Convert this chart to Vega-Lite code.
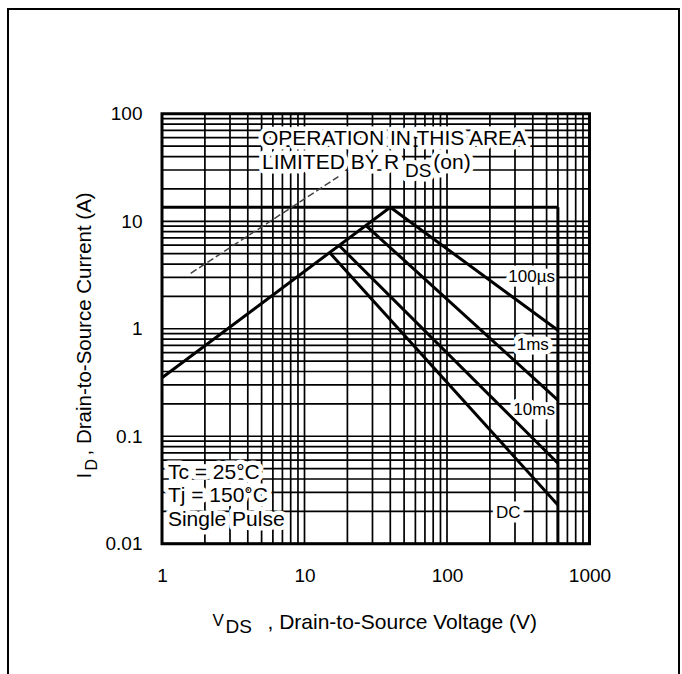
{
  "$schema": "https://vega.github.io/schema/vega-lite/v6.json",
  "width": 671,
  "height": 667,
  "padding": {"left": 8, "top": 9, "right": 3, "bottom": -2},
  "autosize": {"type": "none"},
  "background": "white",
  "config": {
    "view": {"stroke": "black", "strokeWidth": 2},
    "font": "Liberation Sans",
    "axis": {
      "grid": false, "ticks": false, "tickSize": 0, "domain": false,
      "labelPadding": 0, "labelColor": "black", "titleColor": "black",
      "labelFont": "Liberation Sans", "titleFont": "Liberation Sans",
      "labelFontWeight": "normal", "titleFontWeight": "normal",
      "labelOverlap": false, "labelFlush": false, "labelBound": false
    }
  },
  "resolve": {"axis": {"x": "independent", "y": "independent"}},
  "datasets": {
    "vgrid": [
      {"vds": 1}, {"vds": 2}, {"vds": 3}, {"vds": 4}, {"vds": 5}, {"vds": 6}, {"vds": 7}, {"vds": 8}, {"vds": 9},
      {"vds": 10}, {"vds": 20}, {"vds": 30}, {"vds": 40}, {"vds": 50}, {"vds": 60}, {"vds": 70}, {"vds": 80}, {"vds": 90},
      {"vds": 100}, {"vds": 200}, {"vds": 300}, {"vds": 400}, {"vds": 500}, {"vds": 600}, {"vds": 700}, {"vds": 800}, {"vds": 900},
      {"vds": 1000}
    ],
    "hgrid": [
      {"id": 0.01}, {"id": 0.02}, {"id": 0.03}, {"id": 0.04}, {"id": 0.05}, {"id": 0.06}, {"id": 0.07}, {"id": 0.08}, {"id": 0.09},
      {"id": 0.1}, {"id": 0.2}, {"id": 0.3}, {"id": 0.4}, {"id": 0.5}, {"id": 0.6}, {"id": 0.7}, {"id": 0.8}, {"id": 0.9},
      {"id": 1}, {"id": 2}, {"id": 3}, {"id": 4}, {"id": 5}, {"id": 6}, {"id": 7}, {"id": 8}, {"id": 9},
      {"id": 10}, {"id": 20}, {"id": 30}, {"id": 40}, {"id": 50}, {"id": 60}, {"id": 70}, {"id": 80}, {"id": 90},
      {"id": 100}
    ],
    "soa": [
      {"curve": "Id max", "vds": 1, "id": 13.5},
      {"curve": "Id max", "vds": 600, "id": 13.5},
      {"curve": "Vds max", "vds": 600, "id": 13.5},
      {"curve": "Vds max", "vds": 600, "id": 0.01},
      {"curve": "RDS(on)", "vds": 1, "id": 0.35},
      {"curve": "RDS(on)", "vds": 40, "id": 13.5},
      {"curve": "100us", "vds": 40, "id": 13.5},
      {"curve": "100us", "vds": 600, "id": 0.97},
      {"curve": "1ms", "vds": 27, "id": 9.13},
      {"curve": "1ms", "vds": 600, "id": 0.217},
      {"curve": "10ms", "vds": 17.5, "id": 5.95},
      {"curve": "10ms", "vds": 600, "id": 0.056},
      {"curve": "DC", "vds": 15, "id": 5.11},
      {"curve": "DC", "vds": 600, "id": 0.0229}
    ],
    "rdsGuide": [
      {"vds": 1.59, "id": 3.28},
      {"vds": 17.3, "id": 26}
    ],
    "labels": [
      {"label": "OPERATION IN THIS AREA", "kind": "main", "vds": 5.03, "id": 51.2},
      {"label": "LIMITED BY R", "kind": "main", "vds": 5.03, "id": 30.6},
      {"label": "DS", "kind": "sub", "vds": 50.7, "id": 25.8},
      {"label": "(on)", "kind": "main", "vds": 80.2, "id": 30.6},
      {"label": "100µs", "kind": "small", "vds": 269.3, "id": 2.74},
      {"label": "1ms", "kind": "small", "vds": 308.4, "id": 0.634},
      {"label": "10ms", "kind": "small", "vds": 292, "id": 0.1576},
      {"label": "DC", "kind": "small", "vds": 220.8, "id": 0.01723},
      {"label": "Tc = 25°C", "kind": "main", "vds": 1.1, "id": 0.0397},
      {"label": "Tj = 150°C", "kind": "main", "vds": 1.1, "id": 0.0246},
      {"label": "Single Pulse", "kind": "main", "vds": 1.1, "id": 0.0147}
    ]
  },
  "layer": [
    {
      "data": {"name": "vgrid"},
      "mark": {"type": "rule", "color": "black", "strokeWidth": 1.7},
      "encoding": {
        "x": {
          "field": "vds", "type": "quantitative",
          "scale": {"type": "log", "domain": [1, 1000], "range": [154, 581.5], "nice": false},
          "axis": {
            "orient": "bottom", "offset": -109.5, "values": [1, 10, 100, 1000], "format": "~g",
            "labelFontSize": 19, "labelBaseline": "top", "labelAlign": "center",
            "title": ", Drain-to-Source Voltage (V)", "titleFontSize": 21,
            "titleX": 259, "titleY": 61.8, "titleAlign": "left", "titleBaseline": "alphabetic", "titleAnchor": null
          }
        },
        "y": {"datum": 0.01, "axis": null},
        "y2": {"datum": 100}
      }
    },
    {
      "data": {"name": "hgrid"},
      "mark": {"type": "rule", "color": "black", "strokeWidth": 1.7},
      "encoding": {
        "y": {
          "field": "id", "type": "quantitative",
          "scale": {"type": "log", "domain": [0.01, 100], "range": [534.7, 104.8], "nice": false},
          "axis": {
            "orient": "left", "offset": -134, "values": [0.01, 0.1, 1, 10, 100], "format": "~g",
            "labelFontSize": 19, "labelAlign": "right", "labelBaseline": "middle",
            "title": ", Drain-to-Source Current (A)", "titleFontSize": 20.5, "titleAngle": 270,
            "titleX": -51.5, "titleY": 446, "titleAlign": "left", "titleBaseline": "alphabetic", "titleAnchor": null
          }
        },
        "x": {"datum": 1, "axis": null},
        "x2": {"datum": 1000}
      }
    },
    {
      "data": {"name": "labels"},
      "mark": {"type": "text", "align": "left", "baseline": "alphabetic", "fill": "white", "stroke": "white", "strokeWidth": 9, "strokeJoin": "round"},
      "encoding": {
        "x": {
          "field": "vds", "type": "quantitative",
          "axis": {
            "orient": "bottom", "offset": -109.5, "labels": false, "title": "V", "titleFontSize": 17,
            "titleX": 204, "titleY": 58.5, "titleAlign": "left", "titleBaseline": "alphabetic", "titleAnchor": null
          }
        },
        "y": {
          "field": "id", "type": "quantitative",
          "axis": {
            "orient": "left", "offset": -134, "labels": false, "title": "I", "titleFontSize": 20.5, "titleAngle": 270,
            "titleX": -51.5, "titleY": 469, "titleAlign": "left", "titleBaseline": "alphabetic", "titleAnchor": null
          }
        },
        "text": {"field": "label"},
        "size": {"field": "kind", "type": "nominal", "scale": {"domain": ["main", "sub", "small"], "range": [21, 17, 16]}, "legend": null}
      }
    },
    {
      "data": {"name": "soa"},
      "mark": {"type": "line", "color": "black", "strokeWidth": 3},
      "encoding": {
        "x": {
          "field": "vds", "type": "quantitative",
          "axis": {
            "orient": "bottom", "offset": -109.5, "labels": false, "title": "DS", "titleFontSize": 19,
            "titleX": 217, "titleY": 65.5, "titleAlign": "left", "titleBaseline": "alphabetic", "titleAnchor": null
          }
        },
        "y": {
          "field": "id", "type": "quantitative",
          "axis": {
            "orient": "left", "offset": -134, "labels": false, "title": "D", "titleFontSize": 16, "titleAngle": 270,
            "titleX": -46, "titleY": 461, "titleAlign": "left", "titleBaseline": "alphabetic", "titleAnchor": null
          }
        },
        "detail": {"field": "curve"}
      }
    },
    {
      "data": {"name": "rdsGuide"},
      "mark": {"type": "line", "color": "#444444", "strokeWidth": 1.5, "strokeDash": [7, 3]},
      "encoding": {
        "x": {"field": "vds", "type": "quantitative", "axis": null},
        "y": {"field": "id", "type": "quantitative", "axis": null}
      }
    },
    {
      "data": {"values": [{"panel": "SOA"}]},
      "mark": {"type": "rect", "filled": false, "stroke": "black", "strokeWidth": 3},
      "encoding": {
        "x": {"datum": 1, "axis": null},
        "x2": {"datum": 1000},
        "y": {"datum": 0.01, "axis": null},
        "y2": {"datum": 100}
      }
    },
    {
      "data": {"name": "labels"},
      "mark": {"type": "text", "align": "left", "baseline": "alphabetic", "color": "black"},
      "encoding": {
        "x": {"field": "vds", "type": "quantitative", "axis": null},
        "y": {"field": "id", "type": "quantitative", "axis": null},
        "text": {"field": "label"},
        "size": {"field": "kind", "type": "nominal", "legend": null}
      }
    }
  ]
}
